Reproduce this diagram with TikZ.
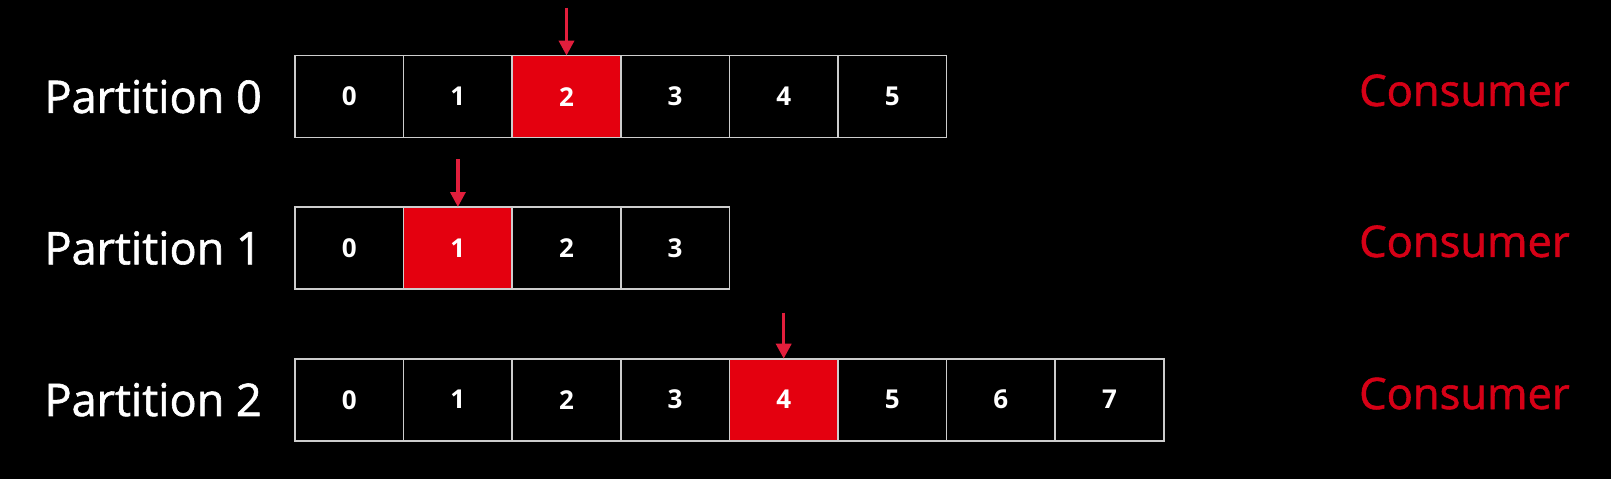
\documentclass[tikz,border=0pt]{standalone}
\usepackage{fontspec}
\setmainfont{Open Sans}
\newfontfamily\labelfont{Open Sans}[FakeBold=1.3]
\usetikzlibrary{positioning,arrows.meta}

\definecolor{slidered}{RGB}{228,0,15}
\definecolor{pointred}{RGB}{226,30,60}
\definecolor{consred}{RGB}{214,0,22}
\definecolor{cellline}{RGB}{205,205,205}

\tikzset{
	cell/.style={draw=cellline, line width=1.6pt, minimum width=108.6pt, minimum height=82pt,
		inner sep=0pt, outer sep=0pt, text=white, font=\fontsize{26}{26}\selectfont\bfseries},
	current/.style={cell, fill=slidered},
	partlabel/.style={text=white, inner sep=0pt, font=\fontsize{45}{45}\labelfont},
	consumer/.style={text=consred, inner sep=0pt, font=\fontsize{43.5}{43.5}\labelfont},
	pointer/.style={draw=pointred, line width=3.5pt, -{Triangle[width=15pt,length=15pt]}}
}

\begin{document}
\begin{tikzpicture}[x=1pt,y=-1pt]
	\fill[black] (0,0) rectangle (1611,479);
	\useasboundingbox (0,0) rectangle (1611,479);

	\node[cell] (p0c0) at (349.3,96.6) {0};
	\node[cell, right=0pt of p0c0] (p0c1) {1};
	\node[current, right=0pt of p0c1] (p0c2) {2};
	\node[cell, right=0pt of p0c2] (p0c3) {3};
	\node[cell, right=0pt of p0c3] (p0c4) {4};
	\node[cell, right=0pt of p0c4] (p0c5) {5};
	\node[partlabel, left=33pt of p0c0] (part0) {Partition 0};
	\node[consumer, anchor=west] (cons0) at (1359,90.4) {Consumer};
	\coordinate[above=48pt of p0c2.north] (from0);
	\draw[pointer] (from0) -- (p0c2.north);

	\node[cell] (p1c0) at (349.3,248) {0};
	\node[current, right=0pt of p1c0] (p1c1) {1};
	\node[cell, right=0pt of p1c1] (p1c2) {2};
	\node[cell, right=0pt of p1c2] (p1c3) {3};
	\node[partlabel, left=33pt of p1c0] (part1) {Partition 1};
	\node[consumer, anchor=west] (cons1) at (1359,241.4) {Consumer};
	\coordinate[above=48pt of p1c1.north] (from1);
	\draw[pointer] (from1) -- (p1c1.north);

	\node[cell] (p2c0) at (349.3,399.7) {0};
	\node[cell, right=0pt of p2c0] (p2c1) {1};
	\node[cell, right=0pt of p2c1] (p2c2) {2};
	\node[cell, right=0pt of p2c2] (p2c3) {3};
	\node[current, right=0pt of p2c3] (p2c4) {4};
	\node[cell, right=0pt of p2c4] (p2c5) {5};
	\node[cell, right=0pt of p2c5] (p2c6) {6};
	\node[cell, right=0pt of p2c6] (p2c7) {7};
	\node[partlabel, left=33pt of p2c0] (part2) {Partition 2};
	\node[consumer, anchor=west] (cons2) at (1359,393.5) {Consumer};
	\coordinate[above=46pt of p2c4.north] (from2);
	\draw[pointer] (from2) -- (p2c4.north);
\end{tikzpicture}
\end{document}
